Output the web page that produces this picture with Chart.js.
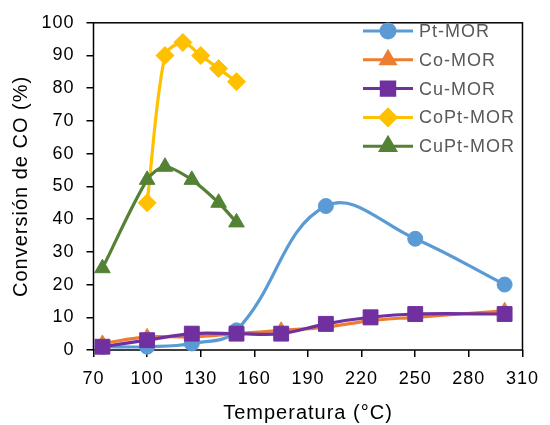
<!DOCTYPE html>
<html>
<head>
<meta charset="utf-8">
<script src="https://cdn.jsdelivr.net/npm/chart.js@4"></script>
<style>
html,body{margin:0;padding:0;background:#fff;}
#wrap{width:550px;height:425px;position:relative;}
</style>
</head>
<body>
<div id="wrap"><canvas id="c" width="550" height="425"></canvas></div>
<script>
// ---- data ----
const seriesNames = ["Pt-MOR", "Co-MOR", "Cu-MOR", "CoPt-MOR", "CuPt-MOR"];
const ptTemps   = [75, 100, 125, 150, 200, 250, 300];
const ptConv    = [1, 1, 2, 6, 44, 34, 20];
const coTemps   = [75, 100, 125, 150, 175, 200, 225, 250, 300];
const coConv    = [2, 4, 4, 5, 6, 7, 9, 10, 12];
const cuTemps   = [75, 100, 125, 150, 175, 200, 225, 250, 300];
const cuConv    = [1, 3, 5, 5, 5, 8, 10, 11, 11];
const coptTemps = [100, 110, 120, 130, 140, 150];
const coptConv  = [45, 90, 94, 90, 86, 82];
const cuptTemps = [75, 100, 110, 125, 140, 150];
const cuptConv  = [25, 52, 56, 52, 45, 39];
const xTickValues = [70, 100, 130, 160, 190, 220, 250, 280, 310];
const yTickValues = [0, 10, 20, 30, 40, 50, 60, 70, 80, 90, 100];
const xTitle = "Temperatura (°C)";
const yTitle = "Conversión de CO (%)";

const colors = ["#5B9BD5", "#ED7D31", "#7030A0", "#FFC000", "#548235"];
const styles = ["circle", "triangle", "rect", "rectRot", "triangle"];
const radii  = [7.5, 8.5, 10.5, 9, 9];
const legendRadii = [7, 8, 9.5, 8, 8.5];
const tensions = [0.4, 0.35, 0.35, 0.3, 0.3];

function pts(xs, ys){ return xs.map((x,i)=>({x:x, y:ys[i]})); }
const allData = [pts(ptTemps, ptConv), pts(coTemps, coConv), pts(cuTemps, cuConv), pts(coptTemps, coptConv), pts(cuptTemps, cuptConv)];

const FONT = "'Liberation Sans', Arial, sans-serif";

const spacingPlugin = {
  id: 'spacing',
  beforeLayout(chart){ chart.ctx.letterSpacing = '1px'; },
  beforeDraw(chart){ chart.ctx.letterSpacing = '1px'; }
};

const framePlugin = {
  id: 'frame',
  beforeDatasetsDraw(chart){
    const {ctx, chartArea:a} = chart;
    ctx.save();
    ctx.strokeStyle = '#000';
    ctx.lineWidth = 1.5;
    ctx.strokeRect(a.left, a.top, a.right - a.left, a.bottom - a.top);
    ctx.restore();
  }
};

const legendPlugin = {
  id: 'customLegend',
  afterDraw(chart){
    const ctx = chart.ctx;
    ctx.save();
    ctx.letterSpacing = '1px';
    seriesNames.forEach((name, i) => {
      const y = 31 + i * 28.8;
      ctx.strokeStyle = colors[i];
      ctx.lineWidth = 3;
      ctx.beginPath();
      ctx.moveTo(363, y);
      ctx.lineTo(413, y);
      ctx.stroke();
      ctx.fillStyle = colors[i];
      Chart.helpers.drawPoint(ctx, {pointStyle: styles[i], radius: legendRadii[i], rotation: 0, borderWidth: 1}, 388, y);
      ctx.fillStyle = '#595959';
      ctx.font = "18px " + FONT;
      ctx.textBaseline = 'middle';
      ctx.textAlign = 'left';
      ctx.fillText(name, 419, y + 1);
    });
    ctx.restore();
  }
};

const datasets = seriesNames.map((name, i) => ({
  label: name,
  data: allData[i],
  borderColor: colors[i],
  backgroundColor: colors[i],
  pointBackgroundColor: colors[i],
  pointBorderColor: colors[i],
  pointStyle: styles[i],
  pointRadius: radii[i],
  pointBorderWidth: 1,
  borderWidth: 3.2,
  tension: tensions[i],
  fill: false,
  order: seriesNames.length - i,
  clip: false
}));

new Chart(document.getElementById('c'), {
  type: 'line',
  data: { datasets: datasets },
  options: {
    responsive: false,
    animation: false,
    devicePixelRatio: 1,
    layout: { padding: { left: 0, top: 20, right: 21.5, bottom: 0 } },
    plugins: { legend: { display: false }, tooltip: { enabled: false } },
    scales: {
      x: {
        type: 'linear',
        min: 70, max: 310,
        afterBuildTicks(scale){ scale.ticks = xTickValues.map(v => ({value: v})); },
        afterFit(scale){ scale.height = 75; },
        grid: { drawOnChartArea: false, drawTicks: true, tickLength: 7, color: '#000', lineWidth: 1.5 },
        border: { display: false },
        ticks: { color: '#000', font: { family: FONT, size: 18 }, padding: 11, maxRotation: 0, autoSkip: false },
        title: { display: true, text: xTitle, color: '#000', font: { family: FONT, size: 20 }, padding: { top: 0, bottom: 0 } }
      },
      y: {
        type: 'linear',
        min: 0, max: 100,
        afterBuildTicks(scale){ scale.ticks = yTickValues.map(v => ({value: v})); },
        afterFit(scale){ scale.width = 93.5; },
        grid: { drawOnChartArea: false, drawTicks: true, tickLength: 7, color: '#000', lineWidth: 1.5 },
        border: { display: false },
        ticks: { color: '#000', font: { family: FONT, size: 18 }, padding: 12, autoSkip: false },
        title: { display: true, text: yTitle, color: '#000', font: { family: FONT, size: 20 }, padding: { top: 9, bottom: 0 } }
      }
    }
  },
  plugins: [spacingPlugin, framePlugin, legendPlugin]
});
</script>
</body>
</html>
